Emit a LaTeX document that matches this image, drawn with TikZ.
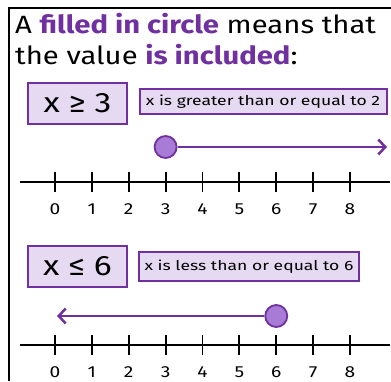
\documentclass[tikz,border=0pt]{standalone}
\usepackage{fontspec}
\setmainfont{Fira Sans}
\newfontfamily\titlefont[FakeStretch=1.17]{Fira Sans}
\newfontfamily\boxfont[FakeStretch=1.3]{Fira Sans}
\newfontfamily\bigfont[FakeStretch=1.2]{Fira Sans}
\usetikzlibrary{arrows.meta}
\definecolor{purp}{HTML}{7030A0}
\definecolor{boxfill}{HTML}{E6DAF2}
\definecolor{dotfill}{HTML}{A77BD6}
\begin{document}
\begin{tikzpicture}[x=1pt,y=-1pt,
  bigbox/.style={draw=purp, fill=boxfill, line width=2.2pt, inner sep=0pt, minimum width=99pt, minimum height=41pt, font=\bigfont\fontsize{28}{32}\selectfont},
  smallbox/.style={draw=purp, fill=boxfill, line width=2pt, inner sep=0pt, minimum height=25pt, font=\boxfont\fontsize{13.5}{16}\selectfont},
  dot/.style={circle, draw=purp, fill=dotfill, line width=1.8pt, minimum size=22pt, inner sep=0pt},
  ray/.style={draw=purp, line width=2.5pt, -{Straight Barb[length=7pt,width=15pt,line width=2.5pt]}},
  numline/.style={draw=black, line width=2.3pt},
  tickmark/.style={draw=black, line width=1.8pt},
  numlab/.style={font=\bigfont\fontsize{16}{18}\selectfont, inner sep=0pt},
  title/.style={anchor=base west, inner sep=0pt, font=\titlefont\fontsize{25}{29}\selectfont}]
\useasboundingbox (0,0) rectangle (391,381);
\fill[white] (0,0) rectangle (391,381);
\draw[line width=2pt] (9,381) -- (9,8) -- (391,8);
\node[title] (t1) at (15,33) {A \textcolor{purp}{\bfseries filled in circle} means that};
\node[title] (t2) at (15,64) {the value \textcolor{purp}{\bfseries is included}:};
% first example
\node[bigbox] (b1) at (77.5,103.5) {x ≥ 3};
\node[smallbox, minimum width=247pt] (s1) at (263,101.5) {x is greater than or equal to 2};
\coordinate (l1a) at (20,182);
\coordinate (l1b) at (390,182);
\draw[numline] (l1a) -- (l1b);
\foreach \i in {0,...,8}{
  \coordinate (k1-\i) at (55+36.875*\i,182);
  \draw[tickmark] ([yshift=-10pt]k1-\i) -- ([yshift=10pt]k1-\i);
  \node[numlab] (n1-\i) at (55+36.875*\i,209) {\i};
}
\node[dot] (d1) at (165.6,147) {};
\coordinate (e1) at (387,147);
\draw[ray] (d1) -- (e1);
% second example
\node[bigbox] (b2) at (77.5,266.5) {x ≤ 6};
\node[smallbox, minimum width=220pt, minimum height=29pt] (s2) at (249,266.5) {x is less than or equal to 6};
\coordinate (l2a) at (20,345);
\coordinate (l2b) at (390,345);
\draw[numline] (l2a) -- (l2b);
\foreach \i in {0,...,8}{
  \coordinate (k2-\i) at (55+36.875*\i,345);
  \draw[tickmark] ([yshift=-10pt]k2-\i) -- ([yshift=10pt]k2-\i);
  \node[numlab] (n2-\i) at (55+36.875*\i,372) {\i};
}
\node[dot] (d2) at (276.25,316) {};
\coordinate (e2) at (57,316);
\draw[ray] (d2) -- (e2);
\end{tikzpicture}
\end{document}
